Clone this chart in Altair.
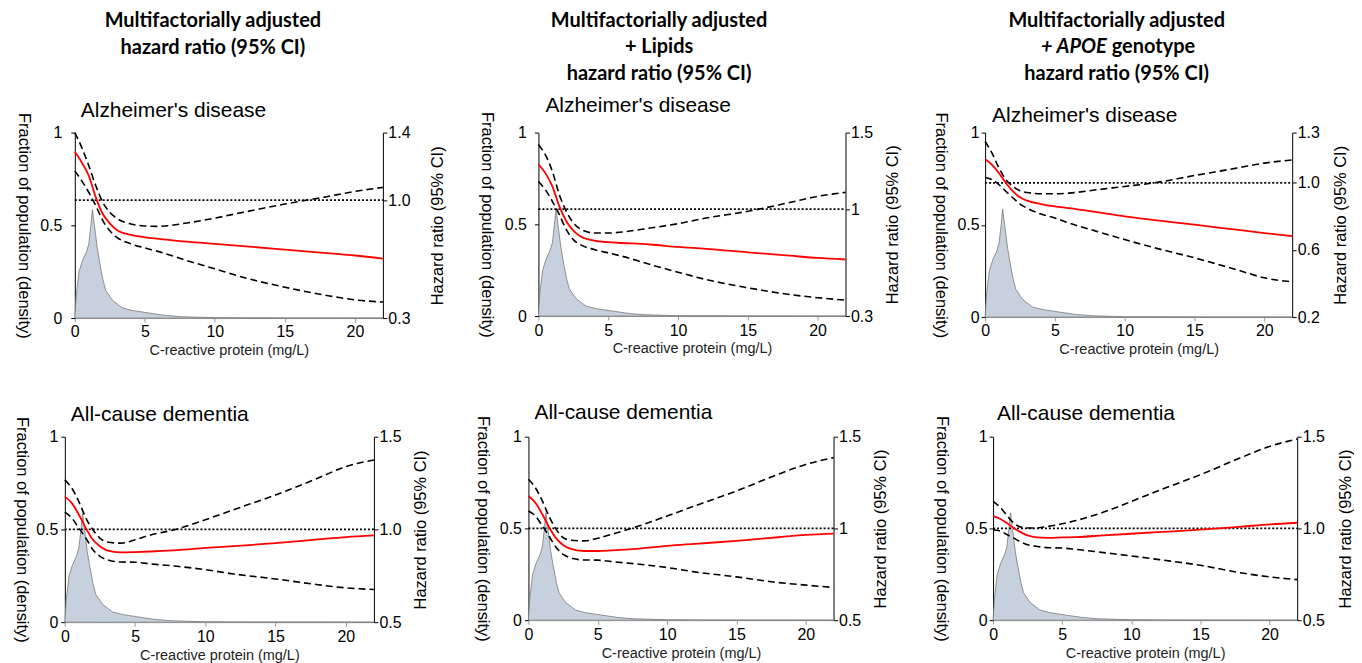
import altair as alt
import pandas as pd

# ---------------- data ----------------
CRP = [0, 0.5, 1, 1.5, 2, 2.5, 3, 4, 5, 6, 8, 10, 12, 15, 18, 20, 22]
X_DOMAIN = [0, 22]

DENS_X = [0, 0.1, 0.3, 0.55, 0.85, 1.0, 1.15, 1.26, 1.4, 1.6, 1.75, 2.0, 2.2, 2.7,
          3.4, 4.1, 5.3, 6.5, 7.7, 10, 13, 16, 22]
DENS_Y = [0, 0.12, 0.25, 0.31, 0.36, 0.40, 0.50, 0.585, 0.50, 0.38, 0.31, 0.21, 0.15,
          0.095, 0.055, 0.041, 0.027, 0.014, 0.007, 0.002, 0.001, 0.0005, 0]

# Alzheimer's disease, multifactorially adjusted
P1_HR = [1.286, 1.223, 1.144, 1.016, 0.917, 0.862, 0.822, 0.793, 0.779, 0.770, 0.753, 0.740, 0.727, 0.706, 0.685, 0.671, 0.653]
P1_HI = [1.400, 1.311, 1.203, 1.085, 0.986, 0.927, 0.891, 0.858, 0.846, 0.844, 0.864, 0.893, 0.927, 0.976, 1.020, 1.051, 1.075]
P1_LO = [1.173, 1.114, 1.045, 0.966, 0.878, 0.818, 0.779, 0.740, 0.716, 0.694, 0.641, 0.592, 0.542, 0.483, 0.434, 0.408, 0.395]
# Alzheimer's disease, + lipids
P2_HR = [1.293, 1.235, 1.148, 1.017, 0.920, 0.859, 0.822, 0.793, 0.783, 0.778, 0.768, 0.752, 0.740, 0.717, 0.695, 0.680, 0.670]
P2_HI = [1.420, 1.354, 1.246, 1.093, 0.985, 0.909, 0.870, 0.843, 0.843, 0.850, 0.876, 0.904, 0.941, 0.985, 1.043, 1.083, 1.109]
P2_LO = [1.180, 1.126, 1.050, 0.963, 0.865, 0.800, 0.767, 0.735, 0.713, 0.691, 0.637, 0.587, 0.539, 0.485, 0.441, 0.420, 0.404]
# Alzheimer's disease, + APOE genotype
P3_HR = [1.141, 1.108, 1.058, 0.999, 0.949, 0.914, 0.894, 0.874, 0.860, 0.850, 0.826, 0.800, 0.780, 0.751, 0.721, 0.701, 0.682]
P3_HI = [1.247, 1.177, 1.088, 1.019, 0.979, 0.953, 0.943, 0.935, 0.935, 0.939, 0.959, 0.979, 0.999, 1.044, 1.088, 1.118, 1.137]
P3_LO = [1.032, 1.019, 0.989, 0.949, 0.910, 0.874, 0.850, 0.814, 0.791, 0.761, 0.711, 0.662, 0.616, 0.553, 0.483, 0.434, 0.410]
# All-cause dementia, multifactorially adjusted
P4_HR = [1.177, 1.142, 1.079, 1.007, 0.944, 0.909, 0.887, 0.876, 0.878, 0.881, 0.888, 0.900, 0.910, 0.926, 0.946, 0.959, 0.968]
P4_HI = [1.267, 1.222, 1.150, 1.061, 0.998, 0.953, 0.932, 0.926, 0.944, 0.968, 1.002, 1.052, 1.106, 1.186, 1.276, 1.339, 1.374]
P4_LO = [1.093, 1.061, 1.007, 0.953, 0.891, 0.855, 0.837, 0.824, 0.823, 0.815, 0.801, 0.783, 0.760, 0.733, 0.702, 0.685, 0.676]
# All-cause dementia, + lipids
P5_HR = [1.177, 1.140, 1.077, 1.005, 0.946, 0.910, 0.890, 0.877, 0.877, 0.880, 0.890, 0.905, 0.916, 0.932, 0.952, 0.965, 0.972]
P5_HI = [1.268, 1.222, 1.150, 1.063, 0.995, 0.950, 0.936, 0.932, 0.946, 0.968, 1.014, 1.068, 1.123, 1.204, 1.295, 1.349, 1.386]
P5_LO = [1.095, 1.068, 1.014, 0.956, 0.896, 0.859, 0.841, 0.828, 0.827, 0.819, 0.805, 0.787, 0.763, 0.736, 0.705, 0.691, 0.678]
# All-cause dementia, + APOE genotype
P6_HR = [1.067, 1.053, 1.029, 1.002, 0.980, 0.962, 0.953, 0.949, 0.951, 0.953, 0.962, 0.971, 0.980, 0.993, 1.010, 1.022, 1.031]
P6_HI = [1.147, 1.116, 1.071, 1.029, 1.007, 1.002, 1.002, 1.011, 1.025, 1.043, 1.089, 1.147, 1.207, 1.293, 1.388, 1.447, 1.487]
P6_LO = [0.993, 0.986, 0.967, 0.947, 0.926, 0.911, 0.904, 0.895, 0.893, 0.886, 0.868, 0.850, 0.830, 0.799, 0.757, 0.736, 0.721]

REF_HR = 1.0
X_TICKS = [0, 5, 10, 15, 20]
DENS_TICKS = [0, 0.5, 1]
HR_TICKS_1 = [0.3, 1.0, 1.4]
HR_TICKS_2 = [0.3, 1, 1.5]
HR_TICKS_3 = [0.2, 0.6, 1.0, 1.3]
HR_TICKS_4 = [0.5, 1.0, 1.5]
HR_TICKS_5 = [0.5, 1, 1.5]
HR_TICKS_6 = [0.5, 1.0, 1.5]

HEAD_1 = ["Multifactorially adjusted", "hazard ratio (95% CI)"]
HEAD_2 = ["Multifactorially adjusted", "+ Lipids", "hazard ratio (95% CI)"]
HEAD_3 = ["Multifactorially adjusted", ["+ APOE", "genotype"], "hazard ratio (95% CI)"]
OUTCOMES = ["Alzheimer's disease", "All-cause dementia"]

# ---------------- style ----------------
FONT = "Liberation Sans"
HFONT = "Lato"
HSIZE = 20
AREA_FILL = "#c6d1dd"
AREA_STROKE = "#7a7a7a"


def text_layer(s, x, y, size, align="left", weight="normal", font=FONT, style="normal"):
    return alt.Chart(pd.DataFrame({"t": [s]})).mark_text(
        font=font, fontSize=size, fontWeight=weight, fontStyle=style,
        align=align, baseline="middle", color="black"
    ).encode(text="t:N", x=alt.value(x), y=alt.value(y))


def panel(p):
    W, H = p["w"], p["h"]
    s = p.get("shift", 0)          # plot drawn from -s to W-s inside its cell
    x_axis = alt.Axis(values=X_TICKS, title="C-reactive protein (mg/L)", grid=False,
                      domainColor="#9a9a9a", tickColor="#9a9a9a", tickSize=4,
                      labelFont=FONT, labelFontSize=16, labelColor="black", labelPadding=2,
                      labelFlush=False, labelOverlap=False,
                      titleFont=FONT, titleFontSize=14.5, titleFontWeight="normal",
                      titleColor="#222", titlePadding=4)
    left_axis = alt.Axis(orient="left", values=DENS_TICKS, format="~g", offset=s,
                         title="Fraction of population (density)", grid=False,
                         domainColor="black", tickColor="black", tickSize=4,
                         labelFont=FONT, labelFontSize=16, labelColor="black",
                         labelPadding=p["lpad"], labelFlush=False, labelOverlap=False,
                         titleFont=FONT, titleFontSize=16.5, titleFontWeight="normal",
                         titleColor="black", titleAngle=90, titleBaseline="top",
                         titlePadding=p["ltp"])
    right_axis = alt.Axis(orient="right", values=p["ticks"], format=p["fmt"],
                          title="Hazard ratio (95% CI)", grid=False,
                          domainColor="black", tickColor="black", tickSize=4,
                          labelFont=FONT, labelFontSize=16, labelColor="black",
                          labelPadding=1, labelFlush=False, labelOverlap=False,
                          titleFont=FONT, titleFontSize=16.5, titleFontWeight="normal",
                          titleColor="black", titleAngle=270, titleBaseline="top",
                          titlePadding=p["rtp"])
    x_scale = alt.Scale(domain=X_DOMAIN, nice=False, zero=False, range=[-s, W - s])
    xs = alt.X("crp:Q", scale=x_scale, axis=x_axis)
    hr_scale = alt.Scale(domain=p["dom"], nice=False, zero=False)
    ys = alt.Y("hr:Q", scale=hr_scale, axis=right_axis)

    dens = pd.DataFrame({"crp": DENS_X, "dens": DENS_Y})
    area = alt.Chart(dens).mark_area(fill=AREA_FILL, stroke=AREA_STROKE, strokeWidth=0.8,
                                     fillOpacity=1).encode(
        x=xs,
        y=alt.Y("dens:Q", scale=alt.Scale(domain=[0, 1], nice=False), axis=left_axis),
    )
    ci = pd.DataFrame({
        "crp": CRP + CRP,
        "hr": p["lo"] + p["hi"],
        "series": ["Lower"] * len(CRP) + ["Upper"] * len(CRP),
    })
    dashed = alt.Chart(ci).mark_line(color="black", strokeDash=[7, 4], strokeWidth=1.6,
                                     interpolate="monotone").encode(
        x=xs, y=ys, detail="series:N")
    ref = pd.DataFrame({"crp": [X_DOMAIN[0]], "crp2": [X_DOMAIN[1]], "hr": [REF_HR]})
    rule = alt.Chart(ref).mark_rule(color="black", strokeDash=[2, 2], strokeWidth=1.8).encode(
        x=xs, x2="crp2:Q", y=ys)
    red = alt.Chart(pd.DataFrame({"crp": CRP, "hr": p["hr"]})).mark_line(
        color="#ff0000", strokeWidth=1.8, interpolate="monotone").encode(x=xs, y=ys)
    inner = alt.layer(dashed, rule, red)

    texts = [text_layer(p["title"], p["tdx"] - s, p["tdy"], 21)]
    if p.get("head"):
        cx = W / 2 + p["hdx"] - s
        for line, yy in zip(p["head"], p["hdy"]):
            if isinstance(line, list):
                j = cx + p["junc"]
                texts.append(text_layer(line[0], j, yy, HSIZE, align="right", weight="bold",
                                        font=HFONT, style="italic"))
                texts.append(text_layer(line[1], j + 5, yy, HSIZE, align="left", weight="bold",
                                        font=HFONT))
            else:
                texts.append(text_layer(line, cx, yy, HSIZE, align="center", weight="bold",
                                        font=HFONT))
    return alt.layer(area, inner, *texts).resolve_scale(y="independent").properties(
        width=W - s, height=H)


PANELS = [
    dict(w=309, h=186, dom=[0.3, 1.4], ticks=HR_TICKS_1, fmt=".1f", hr=P1_HR, lo=P1_LO, hi=P1_HI,
         title=OUTCOMES[0], tdx=6, tdy=-22, head=HEAD_1, hdx=-16, hdy=[-112, -85],
         lpad=9, ltp=8, rtp=20),
    dict(w=308, h=184, dom=[0.3, 1.5], ticks=HR_TICKS_2, fmt="~g", hr=P2_HR, lo=P2_LO, hi=P2_HI,
         title=OUTCOMES[0], tdx=7, tdy=-27, head=HEAD_2, hdx=-33, hdy=[-112, -86, -59],
         lpad=8, ltp=10, rtp=12),
    dict(w=308, h=185, dom=[0.2, 1.3], ticks=HR_TICKS_3, fmt=".1f", hr=P3_HR, lo=P3_LO, hi=P3_HI,
         title=OUTCOMES[0], tdx=7, tdy=-17, head=HEAD_3, hdx=-22, hdy=[-112, -86, -59], junc=-10,
         lpad=2, ltp=8, rtp=13),
    dict(w=310, h=186, dom=[0.5, 1.5], ticks=HR_TICKS_4, fmt=".1f", hr=P4_HR, lo=P4_LO, hi=P4_HI,
         title=OUTCOMES[1], tdx=6, tdy=-22, lpad=3, ltp=6, rtp=12, shift=10),
    dict(w=306, h=184, dom=[0.5, 1.5], ticks=HR_TICKS_5, fmt="~g", hr=P5_HR, lo=P5_LO, hi=P5_HI,
         title=OUTCOMES[1], tdx=6, tdy=-24, lpad=3, ltp=9, rtp=12),
    dict(w=305, h=184, dom=[0.5, 1.5], ticks=HR_TICKS_6, fmt=".1f", hr=P6_HR, lo=P6_LO, hi=P6_HI,
         title=OUTCOMES[1], tdx=4, tdy=-23, lpad=2, ltp=15, rtp=13),
]

charts = [panel(p) for p in PANELS]
row1 = alt.hconcat(*charts[:3], spacing=31)
row2 = alt.hconcat(*charts[3:], spacing=44)
chart = alt.vconcat(row1, row2, spacing=44).properties(
    padding={"left": 5, "top": 2, "right": 0, "bottom": 0}
).configure_view(stroke=None)

chart.save("out.html", embed_options={"renderer": "svg", "actions": False})
